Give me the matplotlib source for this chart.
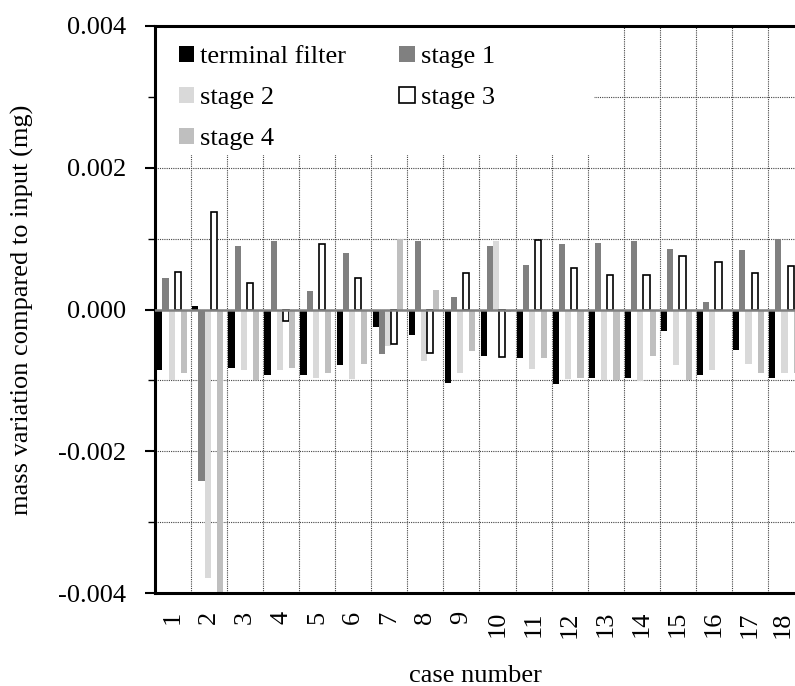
import matplotlib
matplotlib.use("Agg")
import matplotlib.pyplot as plt
import matplotlib.transforms as mtransforms
from matplotlib.patches import Rectangle
from matplotlib.ticker import MultipleLocator, FormatStrFormatter
import numpy as np

cases = [str(i) for i in range(1, 19)]
series = ["terminal filter", "stage 1", "stage 2", "stage 3", "stage 4"]

terminal_filter = [-0.00085, 0.00005, -0.00082, -0.00092, -0.00092, -0.00078,
                   -0.00025, -0.00036, -0.00103, -0.00066, -0.00069, -0.00105,
                   -0.00097, -0.00097, -0.00030, -0.00092, -0.00057, -0.00096]
stage1 = [0.00045, -0.00242, 0.00089, 0.00097, 0.00026, 0.00080,
          -0.00063, 0.00097, 0.00017, 0.00089, 0.00063, 0.00092,
          0.00094, 0.00097, 0.00086, 0.00010, 0.00084, 0.00099]
stage2 = [-0.00100, -0.00379, -0.00085, -0.00086, -0.00096, -0.00098,
          -0.00052, -0.00073, -0.00089, 0.00097, -0.00084, -0.00098,
          -0.00099, -0.00101, -0.00078, -0.00085, -0.00077, -0.00090]
stage3 = [0.00053, 0.00137, 0.00037, -0.00016, 0.00093, 0.00045,
          -0.00049, -0.00062, 0.00051, -0.00067, 0.00098, 0.00059,
          0.00049, 0.00048, 0.00075, 0.00067, 0.00051, 0.00061]
stage4 = [-0.00089, -0.00400, -0.00100, -0.00082, -0.00090, -0.00077,
          0.00100, 0.00027, -0.00058, -0.00003, -0.00068, -0.00097,
          -0.00100, -0.00065, -0.00100, 0.00000, -0.00090, -0.00090]

values = [terminal_filter, stage1, stage2, stage3, stage4]
colors = ["#000000", "#808080", "#d9d9d9", "#ffffff", "#bfbfbf"]
edges = ["#000000", "#808080", "#d9d9d9", "#000000", "#bfbfbf"]


def main():
    plt.rcParams["font.family"] = ["Liberation Serif", "DejaVu Serif"]
    plt.rcParams["axes.unicode_minus"] = False

    fig = plt.figure(figsize=(7.95, 6.86), dpi=100)
    ax = fig.add_axes([155 / 795, 93 / 686, 649 / 795, 567 / 686])

    x = np.arange(1, len(cases) + 1)
    w = 0.17
    handles = []
    for j, (name, vals) in enumerate(zip(series, values)):
        lw = 1.2 if j == 3 else 0
        b = ax.bar(x + (j - 2) * w - 0.04, vals, width=w, color=colors[j],
                   edgecolor=edges[j], linewidth=lw, label=name, zorder=2)
        handles.append(b)

    ax.axhline(0, color="#808080", linewidth=1.8, zorder=3)

    ax.set_xlim(0.5, len(cases) + 0.5)
    ax.set_ylim(-0.004, 0.004)
    ax.set_xticks(x)
    ax.set_xticklabels(cases, rotation=90, fontsize=19)
    ax.set_xticks(np.arange(0.5, len(cases) + 1, 1), minor=True)
    ax.tick_params(axis="x", which="both", length=0, pad=13)
    # keep the last label inside the canvas
    last = ax.get_xticklabels()[-1]
    last.set_transform(last.get_transform() +
                       mtransforms.ScaledTranslation(-3 / 100, 0, fig.dpi_scale_trans))

    ax.yaxis.set_major_locator(MultipleLocator(0.002))
    ax.yaxis.set_minor_locator(MultipleLocator(0.001))
    ax.yaxis.set_major_formatter(FormatStrFormatter("%.3f"))
    ax.tick_params(axis="y", which="major", length=7, width=1.5, labelsize=19, pad=14)
    ax.tick_params(axis="y", which="minor", length=5, width=1.0)

    ax.set_axisbelow(True)
    ax.grid(True, which="minor", axis="both", color="#444444",
            linestyle=(0, (1, 1)), linewidth=0.8)
    ax.grid(True, which="major", axis="y", color="#444444",
            linestyle=(0, (1, 1)), linewidth=0.8)

    for side in ["left", "bottom", "top"]:
        ax.spines[side].set_linewidth(2.2)
    ax.spines["right"].set_visible(False)

    ax.add_patch(Rectangle((0.0, 0.772), 0.677, 0.224, transform=ax.transAxes,
                           facecolor="white", edgecolor="none", zorder=1))

    order = [0, 2, 4, 1, 3]
    ax.legend([handles[i] for i in order], [series[i] for i in order],
              ncol=2, loc="upper left", bbox_to_anchor=(0.02, 0.984),
              frameon=False, fontsize=19, handlelength=0.58, handleheight=0.58,
              handletextpad=0.25, labelspacing=0.7, columnspacing=2.0,
              borderaxespad=0)

    fig.text(22 / 795, 1 - 310 / 686, "mass variation compared to input (mg)",
             fontsize=19, rotation=90, ha="center", va="center")
    fig.text(475 / 795, 1 - 676 / 686, "case number", fontsize=19,
             ha="center", va="center")

    fig.savefig("out.png", dpi=100)


if __name__ == "__main__":
    main()
